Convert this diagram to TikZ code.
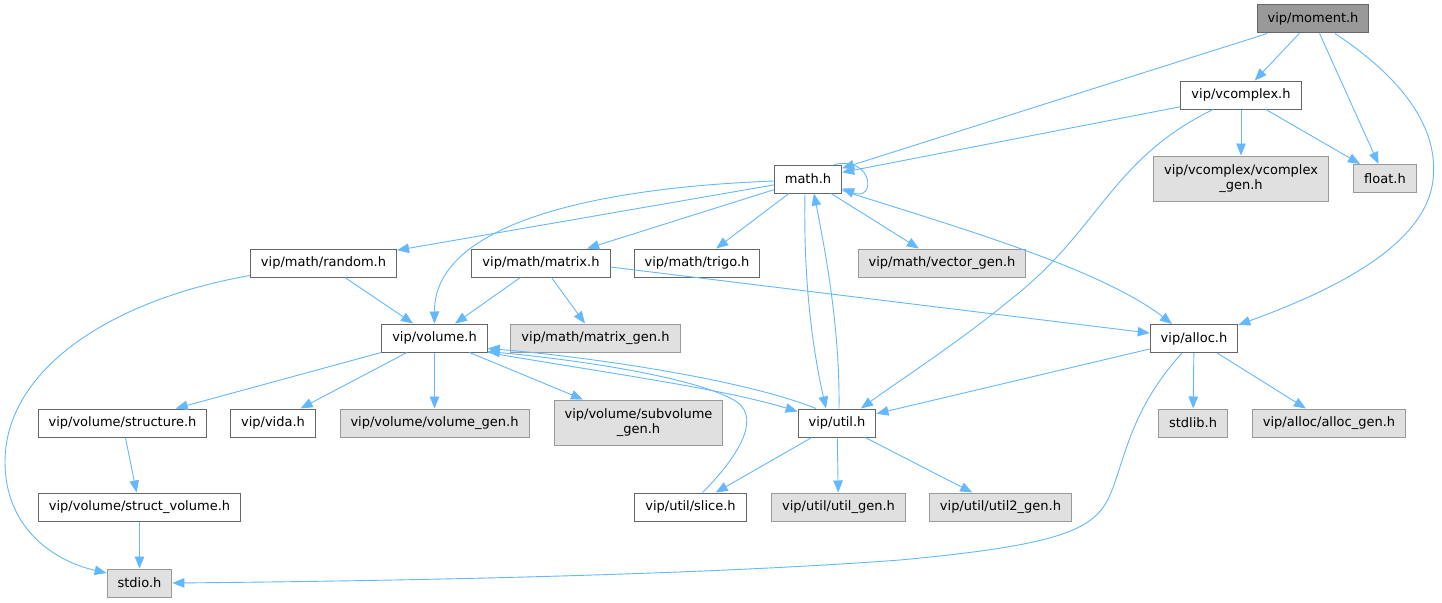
\documentclass[tikz,border=0pt]{standalone}
\usepackage{fontspec}
\setmainfont{DejaVu Sans}
\usetikzlibrary{arrows.meta}
\definecolor{edgec}{HTML}{63B8FF}
\definecolor{bordd}{HTML}{666666}
\definecolor{bordl}{HTML}{999999}
\definecolor{fillg}{HTML}{E0E0E0}
\tikzset{
  box/.style={draw=bordd,fill=white,line width=1pt,minimum height=28pt,inner xsep=10.5pt,inner ysep=0pt,font=\fontsize{13}{15}\selectfont},
  gbox/.style={box,draw=bordl,fill=fillg},
  topbox/.style={box,draw=bordd,fill=bordl},
  two/.style={align=center,minimum height=45pt},
  edge/.style={draw=edgec,line width=0.9pt,-{Triangle[length=12pt,width=9.5pt]}}
}
\begin{document}
\begin{tikzpicture}[x=1pt,y=-1pt]
\useasboundingbox[fill=white] (0,0) rectangle (1442,602);
% nodes
\node[topbox] (moment) at (1313,19) {vip/moment.h};
\node[box] (vcomplex) at (1241,95) {vip/vcomplex.h};
\node[box] (math) at (808,179) {math.h};
\node[gbox,two] (vcgen) at (1241,178.5) {vip/vcomplex/vcomplex\\\_gen.h};
\node[gbox] (float) at (1385,178.5) {float.h};
\node[box] (random) at (323.5,263) {vip/math/random.h};
\node[box] (matrix) at (541,263) {vip/math/matrix.h};
\node[box] (trigo) at (697,263) {vip/math/trigo.h};
\node[gbox] (vecgen) at (942,263) {vip/math/vector\_gen.h};
\node[box] (volume) at (434.5,338) {vip/volume.h};
\node[gbox] (matgen) at (595.5,338) {vip/math/matrix\_gen.h};
\node[box] (alloc) at (1194,338.5) {vip/alloc.h};
\node[box] (structure) at (122.5,423) {vip/volume/structure.h};
\node[box] (vida) at (273,423) {vip/vida.h};
\node[gbox] (volgen) at (434.5,423) {vip/volume/volume\_gen.h};
\node[gbox,two] (subvol) at (638.5,422.5) {vip/volume/subvolume\\\_gen.h};
\node[box] (util) at (837,423) {vip/util.h};
\node[gbox] (stdlib) at (1193,423) {stdlib.h};
\node[gbox] (allocgen) at (1329,423) {vip/alloc/alloc\_gen.h};
\node[box] (structvol) at (139.5,507) {vip/volume/struct\_volume.h};
\node[box] (slice) at (690.5,507) {vip/util/slice.h};
\node[gbox] (utilgen) at (838.5,507) {vip/util/util\_gen.h};
\node[gbox] (util2gen) at (1000.5,507) {vip/util/util2\_gen.h};
\node[gbox] (stdio) at (139.5,583) {stdio.h};
% straight edges
\draw[edge] (moment) -- (math);
\draw[edge] (moment) -- (vcomplex);
\draw[edge] (moment) -- (float);
\draw[edge] (vcomplex) -- (math);
\draw[edge] (vcomplex) -- (vcgen);
\draw[edge] (vcomplex) -- (float);
\draw[edge] (math) -- (random);
\draw[edge] (math) -- (matrix);
\draw[edge] (math) -- (trigo);
\draw[edge] (math) -- (vecgen);
\draw[edge] (random) -- (volume);
\draw[edge] (matrix) -- (volume);
\draw[edge] (matrix) -- (matgen);
\draw[edge] ([yshift=-4pt]matrix.east) -- (alloc);
\draw[edge] (volume) -- (structure);
\draw[edge] (volume) -- (vida);
\draw[edge] (volume) -- (volgen);
\draw[edge] (volume) -- (subvol);
\draw[edge] (structure) -- (structvol);
\draw[edge] (structvol) -- (stdio);
\draw[edge] (alloc) -- (util);
\draw[edge] (alloc) -- (stdlib);
\draw[edge] (alloc) -- (allocgen);
\draw[edge] (util) -- (slice);
\draw[edge] (util) -- (utilgen);
\draw[edge] (util) -- (util2gen);
% curved edges
\draw[edge] ([xshift=22pt]moment.south) .. controls (1390,70) and (1440,120) .. (1433,180)
   .. controls (1425,250) and (1320,295) .. ([yshift=-1pt]alloc.north east);
\draw[edge] ([xshift=-28pt]vcomplex.south) .. controls (1110,160) and (1100,230) .. (1010,300)
   .. controls (955,345) and (900,380) .. ([xshift=24pt]util.north);
\draw[edge] ([xshift=-8pt]math.north east) .. controls (874,156) and (876,202) .. ([yshift=5pt]math.south east);
\draw[edge] ([yshift=-2pt]math.west) .. controls (590,188) and (434,225) .. (volume.north);
\draw[edge] ([yshift=3pt]math.south east) .. controls (950,225) and (1100,268) .. ([xshift=-22pt]alloc.north);
\draw[edge] ([xshift=-3pt]math.south) .. controls (803,290) and (815,360) .. ([xshift=-11pt]util.north);
\draw[edge] ([xshift=2pt]util.north) .. controls (840,330) and (826,255) .. ([xshift=6pt]math.south);
\draw[edge] ([yshift=2pt]random.south west) .. controls (110,300) and (5,370) .. (5,462)
   .. controls (5,525) and (50,560) .. ([yshift=10pt]stdio.west);
\draw[edge] ([xshift=-21pt]util.north) .. controls (740,378) and (580,356) .. ([yshift=4pt]volume.south east);
\draw[edge] ([xshift=12pt]slice.north) .. controls (735,460) and (762,420) .. (737,402)
   .. controls (700,378) and (580,360) .. ([yshift=1pt]volume.south east);
\draw[edge] (volume.south east) .. controls (600,372) and (720,388) .. ([yshift=-3pt]util.north west);
\draw[edge] ([xshift=-12pt]alloc.south) .. controls (1130,410) and (1125,460) .. (1110,495)
   .. controls (1095,530) and (1060,545) .. (900,560)
   .. controls (700,575) and (400,581) .. (stdio.east);
\end{tikzpicture}
\end{document}
